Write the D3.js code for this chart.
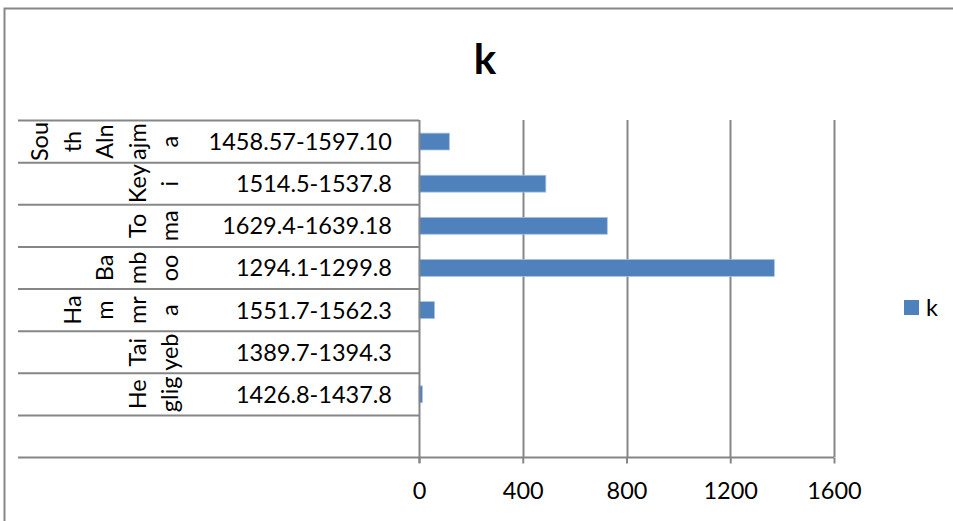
<!DOCTYPE html>
<html>
<head>
<meta charset="utf-8">
<script src="https://cdn.jsdelivr.net/npm/d3@7"></script>
<style>
  html, body { margin: 0; padding: 0; background: #fff; }
  svg { display: block; }
  text { font-family: Lato, "Noto Sans", sans-serif; fill: #000; }
</style>
</head>
<body>
<svg id="chart" width="953" height="521"></svg>
<script>
// ---- data (top row first, as drawn) ----
const chartTitle = "k";
const seriesName = "k";
const fieldLines = [
  ["Sou", "th", "Aln", "ajm", "a"],
  ["Key", "i"],
  ["To", "ma"],
  ["Ba", "mb", "oo"],
  ["Ha", "m", "mr", "a"],
  ["Tai", "yeb"],
  ["He", "glig"],
  []
];
const ranges = [
  "1458.57-1597.10",
  "1514.5-1537.8",
  "1629.4-1639.18",
  "1294.1-1299.8",
  "1551.7-1562.3",
  "1389.7-1394.3",
  "1426.8-1437.8",
  ""
];
const values = [117, 489, 726, 1370, 60, null, 13, null];
const xTicks = [0, 400, 800, 1200, 1600];

// ---- drawing ----
const svg = d3.select("#chart");
const gray = "#868686";
const barColor = "#4F81BD";
const fontSize = 23.5;

// outer chart border
svg.append("rect")
  .attr("x", 4.5).attr("y", 8.5)
  .attr("width", 1000).attr("height", 600)
  .attr("fill", "none").attr("stroke", gray).attr("stroke-width", 2);

// title
svg.append("text")
  .attr("x", 485).attr("y", 74)
  .attr("text-anchor", "middle")
  .attr("font-size", 42).attr("font-weight", "bold")
  .text(chartTitle);

const idx = d3.range(ranges.length);
const y = d3.scaleBand().domain(idx).range([120.5, 457.5]).paddingInner(0.6).paddingOuter(0.3);
const yRow = d3.scaleBand().domain(idx).range([120.5, 457.5]);
const x = d3.scaleLinear().domain([0, 1600]).range([419, 834]);

// vertical gridlines
svg.append("g").selectAll("line").data(xTicks.slice(1)).join("line")
  .attr("x1", d => Math.round(x(d)) + 0.5).attr("x2", d => Math.round(x(d)) + 0.5)
  .attr("y1", 120).attr("y2", 457)
  .attr("stroke", gray).attr("stroke-width", 2);

// category row separators (spanning both label levels)
const bounds = idx.map(i => yRow(i)).concat([yRow(idx[idx.length - 1]) + yRow.bandwidth()]);
svg.append("g").selectAll("line").data(bounds).join("line")
  .attr("x1", 18).attr("x2", 419)
  .attr("y1", d => d).attr("y2", d => d)
  .attr("stroke", gray).attr("stroke-width", 2);

// bars
svg.append("g").selectAll("rect").data(idx.filter(i => values[i] != null)).join("rect")
  .attr("x", x(0))
  .attr("y", i => y(i))
  .attr("width", i => x(values[i]) - x(0))
  .attr("height", y.bandwidth())
  .attr("fill", barColor)
  .attr("stroke", "#a9c1e0").attr("stroke-width", 0.8);

// left (category) axis line
svg.append("line")
  .attr("x1", 419.5).attr("x2", 419.5)
  .attr("y1", 120).attr("y2", 463)
  .attr("stroke", gray).attr("stroke-width", 2);

// bottom value axis
const xAxis = d3.axisBottom(x).tickValues(xTicks).tickSize(6).tickPadding(19).tickFormat(d3.format("d"));
const gx = svg.append("g").attr("transform", "translate(0,457.5)").call(xAxis);
gx.select(".domain").attr("stroke", gray).attr("stroke-width", 2).attr("d", `M${x(0)},0H${x(1600)}`);
gx.selectAll(".tick line").attr("stroke", gray).attr("stroke-width", 2);
gx.selectAll(".tick text")
  .attr("font-family", "Lato, 'Noto Sans', sans-serif")
  .attr("font-size", fontSize).attr("fill", "#000")
  .attr("dy", "0.71em");

// inner labels: ranges
svg.append("g").selectAll("text").data(idx).join("text")
  .attr("x", 392)
  .attr("y", i => yRow(i) + yRow.bandwidth() / 2)
  .attr("dy", "0.36em")
  .attr("text-anchor", "end")
  .attr("font-size", fontSize)
  .text(i => ranges[i]);

// outer labels: wrapped, rotated field names
const lineGap = 32.5, lastBase = 178;
const lg = svg.append("g");
idx.forEach(i => {
  const lines = fieldLines[i];
  const cy = yRow(i) + yRow.bandwidth() / 2;
  lines.forEach((t, k) => {
    const bx = lastBase - (lines.length - 1 - k) * lineGap;
    lg.append("text")
      .attr("transform", `translate(${bx},${cy}) rotate(-90)`)
      .attr("text-anchor", "middle")
      .attr("font-size", fontSize)
      .text(t);
  });
});

// legend
const leg = svg.append("g");
leg.append("rect").attr("x", 904).attr("y", 300).attr("width", 15).attr("height", 15).attr("fill", barColor);
leg.append("text").attr("x", 926).attr("y", 316).attr("font-size", fontSize).text(seriesName);
</script>
</body>
</html>
